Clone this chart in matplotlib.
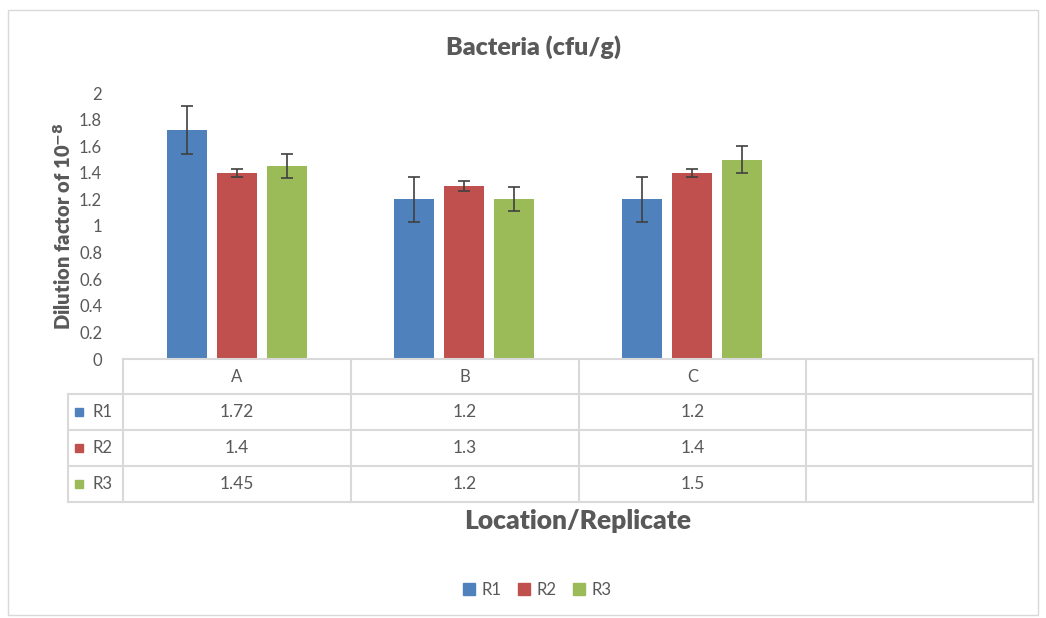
import matplotlib.pyplot as plt
from matplotlib.patches import Rectangle
import numpy as np

plt.rcParams['font.family'] = ['Lato', 'DejaVu Sans']

# data
locations = ["A", "B", "C", ""]
series = ["R1", "R2", "R3"]
r1 = [1.72, 1.2, 1.2]
r2 = [1.4, 1.3, 1.4]
r3 = [1.45, 1.2, 1.5]
r1_err = [0.18, 0.17, 0.17]
r2_err = [0.03, 0.04, 0.03]
r3_err = [0.09, 0.09, 0.10]
yticks = [0, 0.2, 0.4, 0.6, 0.8, 1, 1.2, 1.4, 1.6, 1.8, 2]

colors = ["#4f81bd", "#c0504d", "#9bbb59"]
txt = "#595959"
grid = "#d9d9d9"

W, H = 1046, 618
fig = plt.figure(figsize=(W / 100, H / 100), dpi=100)
fig.patches.append(Rectangle((8 / W, 0.005), 1030 / W, 1 - 10 / H - 0.005,
                             transform=fig.transFigure, fill=False,
                             edgecolor=grid, linewidth=1))
ax = fig.add_axes([123 / W, 1 - 359 / H, 910 / W, 266 / H])

x = np.arange(3) + 0.5
width = 0.175
step = 0.22
vals = [r1, r2, r3]
errs = [r1_err, r2_err, r3_err]
for i in range(3):
    ax.bar(x + (i - 1) * step, vals[i], width, color=colors[i], label=series[i],
           yerr=errs[i], capsize=4,
           error_kw=dict(ecolor="#404040", elinewidth=1.2, capthick=1.2))

ax.set_xlim(0, 4)
ax.set_ylim(0, 2)
ax.set_yticks(yticks)
ax.set_yticklabels([f"{t:g}" for t in yticks], color=txt, fontsize=12)
ax.tick_params(axis="y", length=0, pad=15)
ax.set_xticks([])
for s in ax.spines.values():
    s.set_visible(False)

ax.set_ylabel(r"Dilution factor of 10$^{\mathbf{-8}}$", fontsize=14.5,
              fontweight="heavy", color=txt, labelpad=4)
fig.text(534 / W, 1 - 47 / H, "Bacteria (cfu/g)", fontsize=18,
         fontweight="heavy", color=txt, ha="center", va="center")

# data table under the plot, drawn in axes fraction (px / axes size)
aw, ah = 910.0, 266.0
row_y = [0, -35, -71, -107, -143]
col_x = [0, 228, 456, 683, 910]
lw = 1.5
for k, yy in enumerate(row_y):
    x0 = 0 if k == 0 else -55
    ax.plot([x0 / aw, 1], [yy / ah, yy / ah], color=grid, lw=lw,
            transform=ax.transAxes, clip_on=False)
for xx in col_x:
    ax.plot([xx / aw, xx / aw], [0, row_y[-1] / ah], color=grid, lw=lw,
            transform=ax.transAxes, clip_on=False)
ax.plot([-55 / aw, -55 / aw], [row_y[1] / ah, row_y[-1] / ah], color=grid, lw=lw,
        transform=ax.transAxes, clip_on=False)

for j, name in enumerate(locations):
    xc = (col_x[j] + col_x[j + 1]) / 2 / aw
    ax.text(xc, (row_y[0] + row_y[1]) / 2 / ah, name, color=txt, fontsize=12,
            ha="center", va="center", transform=ax.transAxes)
for i in range(3):
    yc = (row_y[i + 1] + row_y[i + 2]) / 2 / ah
    ax.plot(-44 / aw, yc, "s", color=colors[i], markersize=6,
            transform=ax.transAxes, clip_on=False)
    ax.text(-30 / aw, yc, series[i], color=txt, fontsize=12, va="center",
            ha="left", transform=ax.transAxes)
    for j, v in enumerate(vals[i]):
        xc = (col_x[j] + col_x[j + 1]) / 2 / aw
        ax.text(xc, yc, f"{v:g}", color=txt, fontsize=12.5, ha="center",
                va="center", transform=ax.transAxes)

fig.text(578 / W, 1 - 521 / H, "Location/Replicate", fontsize=19,
         fontweight="heavy", color=txt, ha="center", va="center")

fig.legend([Rectangle((0, 0), 1, 1, color=c) for c in colors], series,
           loc="center", bbox_to_anchor=(537 / W, 1 - 590 / H), ncol=3,
           frameon=False, fontsize=12, handlelength=0.7, handleheight=0.7,
           handletextpad=0.4, columnspacing=1.0, labelcolor=txt)

fig.savefig("out.png", dpi=100)
